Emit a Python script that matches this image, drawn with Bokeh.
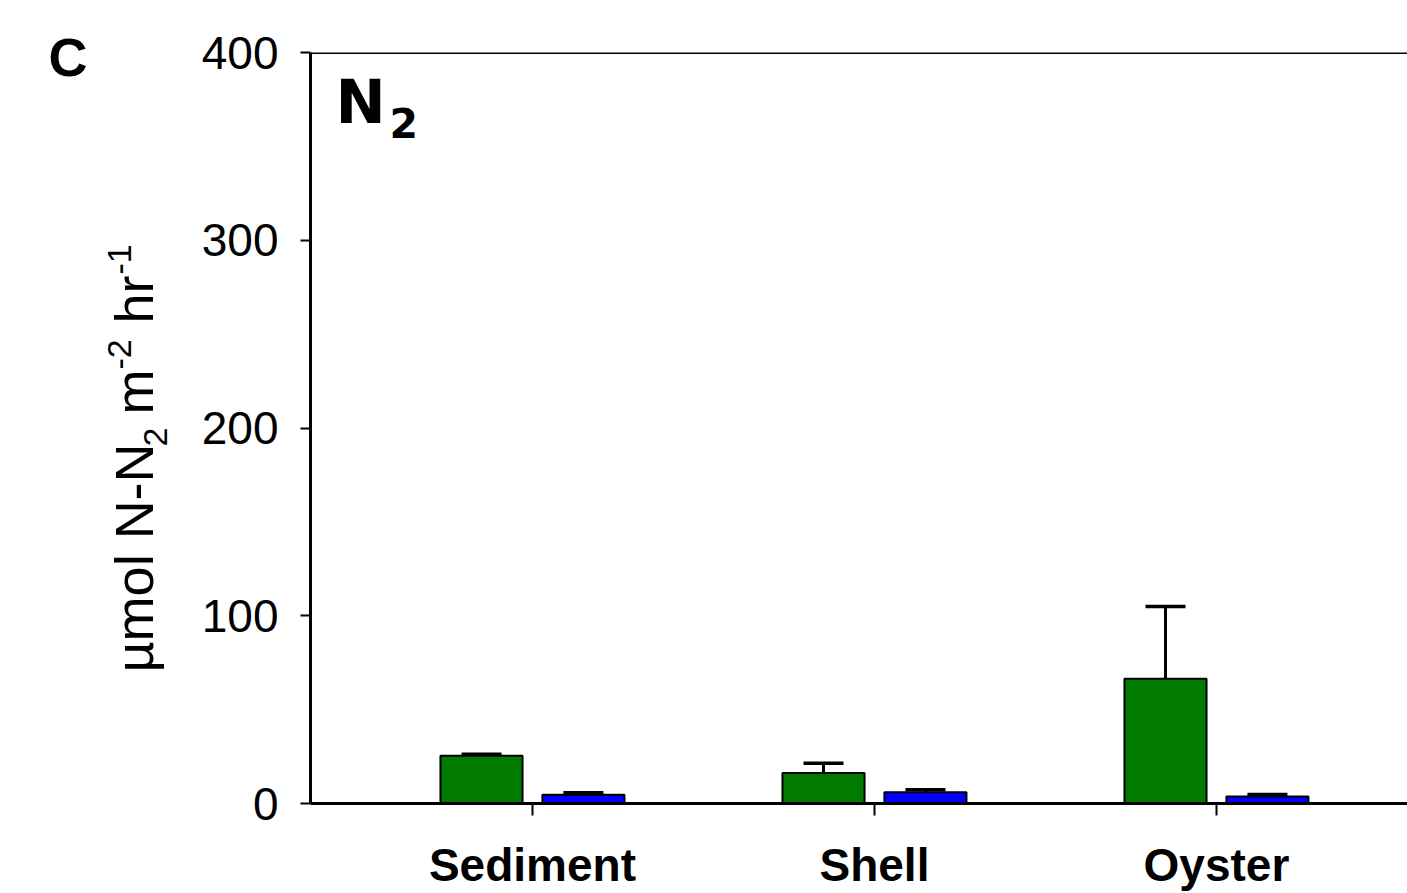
import math

from bokeh.embed import file_html
from bokeh.layouts import row
from bokeh.models import (ColumnDataSource, FixedTicker, Label, Range1d, Span,
                          TeeHead, Whisker)
from bokeh.plotting import figure
from bokeh.resources import INLINE
from bokeh.transform import dodge

# ---- data -------------------------------------------------------------
categories = ["Sediment", "Shell", "Oyster"]
green_means = [25.4, 16.3, 66.4]
green_err = [0.8, 5.1, 38.5]
blue_means = [4.6, 6.0, 3.7]
blue_err = [1.1, 1.3, 1.1]
y_ticks = [0, 100, 200, 300, 400]

GREEN = "#007B00"
BLUE = "#0000FF"
SANS = "Liberation Sans"

# ---- layout -----------------------------------------------------------
CANVAS_H = 893
STRIP_W = 190                      # left strip holding the panel letter and y title
STRIP_FRAME_LEFT = 90              # strip frame starts here; the letter sits left of it
FRAME_LEFT, FRAME_TOP = 310, 52    # main frame position on the whole page
FRAME_W, FRAME_H = 1097, 751
FRAME_BOTTOM = FRAME_TOP + FRAME_H
PX_PER_CAT = 342
X_START = -0.649
X_END = X_START + FRAME_W / PX_PER_CAT
Y_MAX = 400
OFFSET = 0.149
BAR_W = 0.24
BASE_FIX = 0.367                   # baseline correction, in em, for Label text


def dx(px):
    """page pixel column -> data x of the main plot"""
    return X_START + (px - FRAME_LEFT) / PX_PER_CAT


def dy(py):
    """page pixel row -> data y of the main plot"""
    return (FRAME_BOTTOM - py) * Y_MAX / FRAME_H


idx = list(range(len(categories)))
src = ColumnDataSource(dict(
    idx=idx,
    green=green_means,
    green_top=[m + e for m, e in zip(green_means, green_err)],
    blue=blue_means,
    blue_top=[m + e for m, e in zip(blue_means, blue_err)],
))

p = figure(frame_width=FRAME_W, frame_height=FRAME_H,
           min_border_left=FRAME_LEFT - STRIP_W, min_border_right=0,
           min_border_top=FRAME_TOP, min_border_bottom=CANVAS_H - FRAME_BOTTOM,
           x_range=Range1d(X_START, X_END), y_range=Range1d(0, Y_MAX),
           output_backend="svg", toolbar_location=None,
           background_fill_color="white", border_fill_color="white")
p.grid.visible = False
p.outline_line_color = None

# bars with upper error bars
for field, shift, color in (("green", -OFFSET, GREEN), ("blue", OFFSET, BLUE)):
    xs = dodge("idx", shift, range=p.x_range)
    p.vbar(x=xs, top=field, bottom=0, width=BAR_W, source=src,
           fill_color=color, line_color="black", line_width=2)
    p.add_layout(Whisker(source=src, base=xs, lower=field, upper=field + "_top",
                         dimension="height", line_color="black", line_width=3,
                         lower_head=None,
                         upper_head=TeeHead(size=40, line_color="black", line_width=3.5),
                         level="overlay"))

# top border of the frame
p.add_layout(Span(location=Y_MAX, dimension="width", line_color="black", line_width=3))

# axes
p.xaxis.ticker = FixedTicker(ticks=idx)
p.xaxis.major_label_overrides = {i: c for i, c in zip(idx, categories)}
p.xaxis.major_tick_in = 0
p.xaxis.major_tick_out = 12
p.xaxis.major_label_standoff = 23
p.xaxis.major_label_text_font_style = "bold"

p.yaxis.ticker = FixedTicker(ticks=y_ticks)
p.yaxis.major_tick_in = 0
p.yaxis.major_tick_out = 10
p.yaxis.major_label_standoff = 22

for ax in (p.xaxis, p.yaxis):
    ax.axis_line_width = 3
    ax.axis_line_color = "black"
    ax.major_tick_line_width = 2
    ax.major_tick_line_color = "black"
    ax.minor_tick_line_color = None
    ax.major_label_text_font = SANS
    ax.major_label_text_font_size = "46px"
    ax.major_label_text_color = "black"

# in-panel title N2
p.add_layout(Label(x=dx(335), y=dy(124 - BASE_FIX * 60), text="N", text_font="DejaVu Sans",
                   text_font_size="60px", text_font_style="bold", text_color="black",
                   text_align="left", text_baseline="alphabetic"))
p.add_layout(Label(x=dx(389), y=dy(138 - BASE_FIX * 41), text="2", text_font="DejaVu Sans",
                   text_font_size="41px", text_font_style="bold", text_color="black",
                   text_align="left", text_baseline="alphabetic"))

# ---- left strip: panel letter and rotated y title -----------------------
# the row aligns this strip's frame with the main frame (rows 52..803), so
# its ranges are expressed in page pixels (y counted from the bottom)
strip = figure(width=STRIP_W, height=CANVAS_H, min_border=0,
               min_border_left=STRIP_FRAME_LEFT,
               min_border_top=FRAME_TOP, min_border_bottom=CANVAS_H - FRAME_BOTTOM,
               x_range=Range1d(STRIP_FRAME_LEFT, STRIP_W),
               y_range=Range1d(CANVAS_H - FRAME_BOTTOM, CANVAS_H - FRAME_TOP),
               x_axis_location=None, y_axis_location="left",
               output_backend="svg", toolbar_location=None,
               background_fill_color="white", border_fill_color="white")
strip.grid.visible = False
strip.outline_line_color = None


def sy(py):
    """page pixel row -> data y of the strip"""
    return CANVAS_H - py


# panel letter, carried by the strip's bare left axis so it is not clipped
letter_at = sy(56)
strip.yaxis.ticker = FixedTicker(ticks=[letter_at])
strip.yaxis.major_label_overrides = {letter_at: "C"}
strip.yaxis.axis_line_color = None
strip.yaxis.major_tick_line_color = None
strip.yaxis.minor_tick_line_color = None
strip.yaxis.major_tick_in = 0
strip.yaxis.major_tick_out = 0
strip.yaxis.major_label_standoff = 3
strip.yaxis.major_label_text_font = SANS
strip.yaxis.major_label_text_font_size = "54px"
strip.yaxis.major_label_text_font_style = "bold"
strip.yaxis.major_label_text_color = "black"

# y title, read bottom to top: (text, start row, baseline column, size)
MAIN_BASE, SUB_BASE, SUP_BASE = 153, 167, 131
pieces = [
    ("µmol N-N", 672, MAIN_BASE, 54),
    ("2", 446, SUB_BASE, 34),
    ("m", 414, MAIN_BASE, 54),
    ("-2", 369, SUP_BASE, 34),
    ("hr", 323, MAIN_BASE, 54),
    ("-1", 274, SUP_BASE, 34),
]
for txt, start_py, base_px, size in pieces:
    strip.add_layout(Label(x=base_px - BASE_FIX * size, y=sy(start_py), text=txt,
                           angle=math.pi / 2, text_font=SANS,
                           text_font_size=f"{size}px", text_color="black",
                           text_align="left", text_baseline="alphabetic"))

page = row(strip, p, spacing=0)
open("out.html", "w").write(file_html(page, INLINE))
